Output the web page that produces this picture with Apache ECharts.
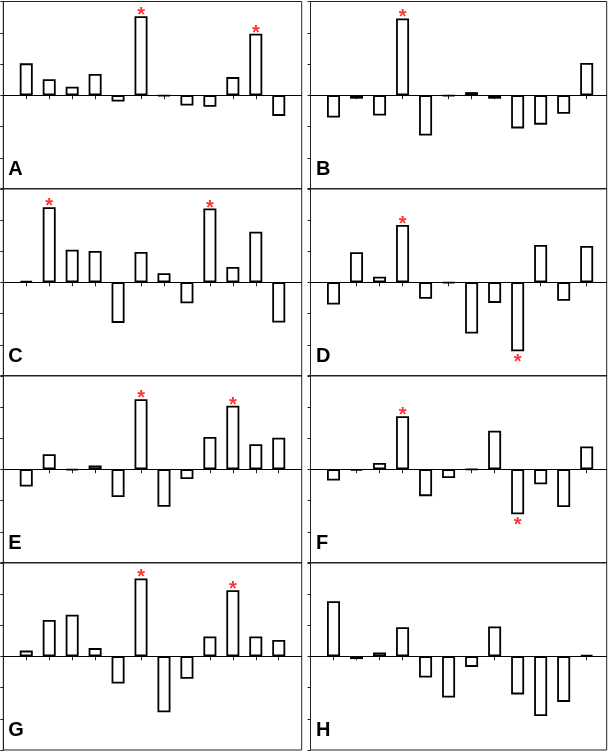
<!DOCTYPE html>
<html>
<head>
<meta charset="utf-8">
<script src="https://cdn.jsdelivr.net/npm/echarts@6/dist/echarts.min.js"></script>
<style>
html,body{margin:0;padding:0;background:#fff;}
#chart{width:610px;height:754px;}
</style>
</head>
<body>
<div id="chart"></div>
<script>
// x positions of the 12 bars
const positions = [1,2,3,4,5,6,7,8,9,10,11,12];
// panel labels
const panelNames = ['A','B','C','D','E','F','G','H'];
// bar values per panel
const valuesA = [1.02,0.51,0.27,0.68,-0.20,2.53,-0.03,-0.33,-0.37,0.58,1.97,-0.66];
const valuesB = [-0.71,-0.11,-0.65,2.46,-1.29,-0.03,0.10,-0.11,-1.06,-0.94,-0.59,1.03];
const valuesC = [0.04,2.40,1.04,1.00,-1.30,0.97,0.29,-0.67,2.36,0.49,1.62,-1.29];
const valuesD = [-0.71,0.96,0.18,1.83,-0.53,-0.03,-1.64,-0.66,-2.21,1.19,-0.59,1.16];
const valuesE = [-0.55,0.48,-0.03,0.12,-0.89,2.24,-1.20,-0.31,1.03,2.03,0.80,1.01];
const valuesF = [-0.36,-0.04,0.20,1.70,-0.86,-0.28,-0.01,1.23,-1.44,-0.48,-1.21,0.73];
const valuesG = [0.18,1.16,1.33,0.26,-0.87,2.49,-1.79,-0.72,0.63,2.11,0.63,0.52];
const valuesH = [1.76,-0.09,0.12,0.93,-0.68,-1.32,-0.34,0.95,-1.22,-1.91,-1.46,0.04];
// significance markers (1 = asterisk shown)
const sigA = [0,0,0,0,0,1,0,0,0,0,1,0];
const sigB = [0,0,0,1,0,0,0,0,0,0,0,0];
const sigC = [0,1,0,0,0,0,0,0,1,0,0,0];
const sigD = [0,0,0,1,0,0,0,0,1,0,0,0];
const sigE = [0,0,0,0,0,1,0,0,0,1,0,0];
const sigF = [0,0,0,1,0,0,0,0,1,0,0,0];
const sigG = [0,0,0,0,0,1,0,0,0,1,0,0];
const sigH = [0,0,0,0,0,0,0,0,0,0,0,0];
// y-axis ticks
const yMin = -3, yMax = 3, yStep = 1;

const allValues = [valuesA,valuesB,valuesC,valuesD,valuesE,valuesF,valuesG,valuesH];
const allSig = [sigA,sigB,sigC,sigD,sigE,sigF,sigG,sigH];

const rowTops = [1.5, 188.5, 375.5, 562.5];
const rowH = 187.5;
const cols = [{left:3.3, width:298.4, max:13}, {left:310.5, width:296.2, max:12.87}];

const grids = [], xAxes = [], yAxes = [], series = [], graphics = [];
const frame = '#222';

for (let i = 0; i < 8; i++) {
  const r = Math.floor(i/2), c = i % 2;
  const col = cols[c];
  grids.push({left: col.left, top: rowTops[r], width: col.width, height: rowH,
    show: true, borderColor: frame, borderWidth: 1, backgroundColor: 'transparent', containLabel: false});
  xAxes.push({type:'value', gridIndex:i, min:0, max:col.max, interval:1,
    axisLine:{show:true, lineStyle:{color:frame, width:1}},
    axisTick:{show:true, inside:false, length:4, lineStyle:{color:frame, width:1}, customValues: positions},
    axisLabel:{show:false}, splitLine:{show:false}});
  yAxes.push({type:'value', gridIndex:i, min:yMin, max:yMax, interval:yStep,
    axisLine:{show:true, lineStyle:{color:frame, width:1}},
    axisTick:{show:true, inside:false, length:3, lineStyle:{color:frame, width:1}},
    axisLabel:{show:false}, splitLine:{show:false}});
  const vals = allValues[i];
  series.push({type:'bar', xAxisIndex:i, yAxisIndex:i, barWidth:13,
    data: positions.map((p,k)=>[p, vals[k]]),
    itemStyle:{color:'#fff', borderColor:'#000', borderWidth:1.8},
    silent:true, animation:false,
    markLine:{silent:true, symbol:['none','none'], label:{show:false},
      lineStyle:{color:'#000', width:1, type:'solid'}, data:[{yAxis:0}]}
  });
  const sig = allSig[i];
  const starData = [];
  positions.forEach((p,k)=>{
    if (sig[k]) {
      const neg = vals[k] < 0;
      starData.push({value:[p, vals[k]], label:{offset:[0, neg ? 11 : -0.5]}});
    }
  });
  series.push({type:'scatter', xAxisIndex:i, yAxisIndex:i, symbolSize:1,
    itemStyle:{color:'rgba(0,0,0,0)'}, silent:true, animation:false,
    data: starData,
    label:{show:true, position:'inside', formatter:'*', color:'#ff0000',
      fontSize:20, fontWeight:'bold', fontFamily:'Liberation Sans, Arial, sans-serif'}
  });
  graphics.push({type:'text', left: col.left + (c===0 ? 5 : 5.5), top: rowTops[r] + 158,
    style:{text: panelNames[i], font:'bold 20px "Liberation Sans", Arial, sans-serif', fill:'#000'}});
}

const chart = echarts.init(document.getElementById('chart'), null, {renderer:'canvas'});
chart.setOption({
  animation:false,
  grid: grids, xAxis: xAxes, yAxis: yAxes, series: series, graphic: graphics
});
</script>
</body>
</html>
